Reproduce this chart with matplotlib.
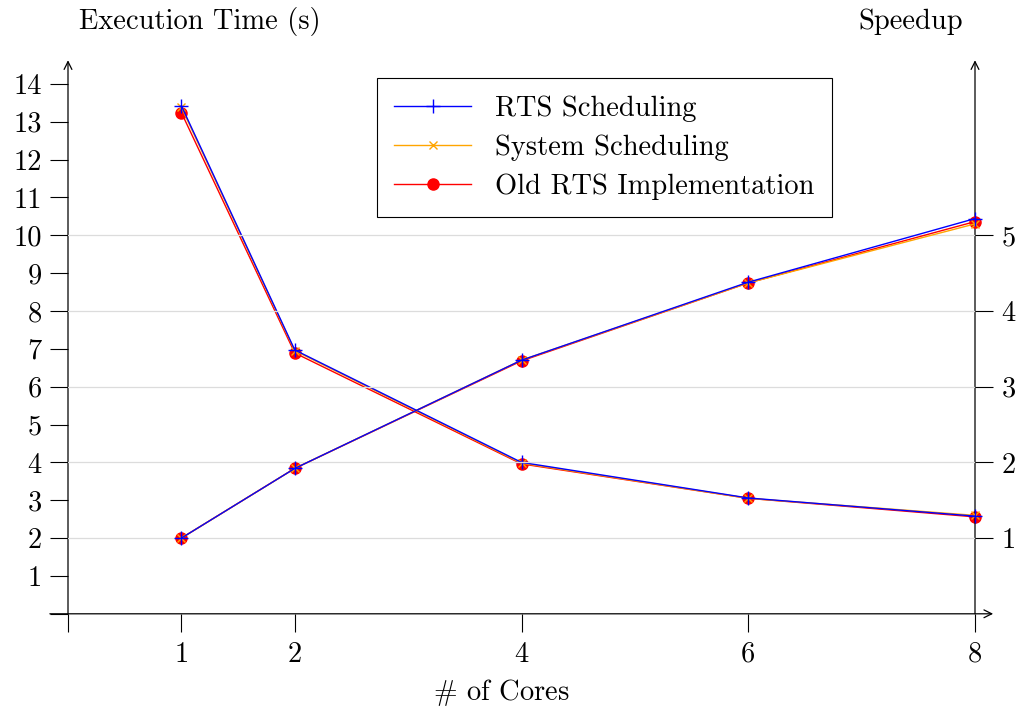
import matplotlib.pyplot as plt
import numpy as np

plt.rcParams["font.family"] = ["cmr10", "DejaVu Serif"]
plt.rcParams["axes.formatter.use_mathtext"] = True
plt.rcParams["mathtext.fontset"] = "cm"

cores = [1, 2, 4, 6, 8]

# execution time in seconds
time_rts = [13.42, 6.97, 4.0, 3.06, 2.58]
time_sys = [13.38, 6.95, 3.98, 3.05, 2.6]
time_old = [13.24, 6.89, 3.96, 3.05, 2.56]

# speedup
speed_rts = [1, 1.92, 3.35, 4.38, 5.22]
speed_sys = [1, 1.92, 3.35, 4.37, 5.15]
speed_old = [1, 1.92, 3.34, 4.37, 5.18]

labels = ["RTS Scheduling", "System Scheduling", "Old RTS Implementation"]
colors = ["blue", "orange", "red"]
markers = ["+", "x", "o"]
msizes = [10, 6, 8]

FS = 20.5

fig = plt.figure(figsize=(10.24, 7.11), dpi=100)
ax = fig.add_axes([68 / 1024, 1 - 613.8 / 711, 907 / 1024, 550.8 / 711])
ax2 = ax.twinx()

ymax = 14.55
ax.set_xlim(0, 8)
ax.set_ylim(0, ymax)
ax2.set_ylim(0, ymax / 2)

# grid comes from the speedup axis
for s in range(1, 6):
    ax2.axhline(s, color="#dcdcdc", lw=0.9, zorder=0)

times = [time_rts, time_sys, time_old]
speeds = [speed_rts, speed_sys, speed_old]
handles = []
for i in [2, 1, 0]:
    h, = ax.plot(cores, times[i], color=colors[i], marker=markers[i],
                 markersize=msizes[i], lw=1.0, mew=1.0, label=labels[i],
                 zorder=3 + (2 - i), clip_on=False)
    ax2.plot(cores, speeds[i], color=colors[i], marker=markers[i],
             markersize=msizes[i], lw=1.0, mew=1.0, zorder=3 + (2 - i),
             clip_on=False)
    handles.insert(0, h)

for a in (ax, ax2):
    for sp in a.spines.values():
        sp.set_visible(False)

ax.set_xticks([0, 1, 2, 4, 6, 8])
ax.set_xticklabels(["", "1", "2", "4", "6", "8"])
ax.set_yticks(range(0, 15))
ax.set_yticklabels([""] + [str(v) for v in range(1, 15)])
ax.tick_params(axis="both", direction="out", length=13, width=0.8,
               labelsize=FS, pad=6)
ax.tick_params(axis="x", pad=7)
ax2.set_yticks(range(1, 6))
ax2.tick_params(axis="y", direction="out", length=13, width=0.8,
                labelsize=FS, pad=6)

arrow = dict(arrowstyle="->", color="black", lw=0.9, shrinkA=0, shrinkB=0,
             mutation_scale=14)
ax.annotate("", xy=(0, 1.005), xytext=(0, 0), xycoords="axes fraction",
            arrowprops=arrow, annotation_clip=False)
ax.annotate("", xy=(1, 1.005), xytext=(1, 0), xycoords="axes fraction",
            arrowprops=arrow, annotation_clip=False)
ax.annotate("", xy=(1.02, 0), xytext=(-0.02, 0), xycoords="axes fraction",
            arrowprops=arrow, annotation_clip=False)

fig.text(200 / 1024, 1 - 22 / 711, "Execution Time (s)", fontsize=FS,
         ha="center", va="center")
fig.text(911 / 1024, 1 - 22 / 711, "Speedup", fontsize=FS,
         ha="center", va="center")
fig.text(501 / 1024, 1 - 692 / 711, r"$\#$ of Cores", fontsize=FS,
         ha="center", va="center")

leg = ax.legend(handles=handles, loc="upper left",
                bbox_to_anchor=(0.341, 0.9728), fontsize=FS, frameon=True,
                fancybox=False, edgecolor="black", handlelength=2.7,
                handletextpad=0.85, borderpad=0.6, labelspacing=0.44,
                framealpha=1, borderaxespad=0)
leg.get_frame().set_linewidth(0.8)
leg.set_zorder(10)

fig.savefig("out.png", dpi=100)
